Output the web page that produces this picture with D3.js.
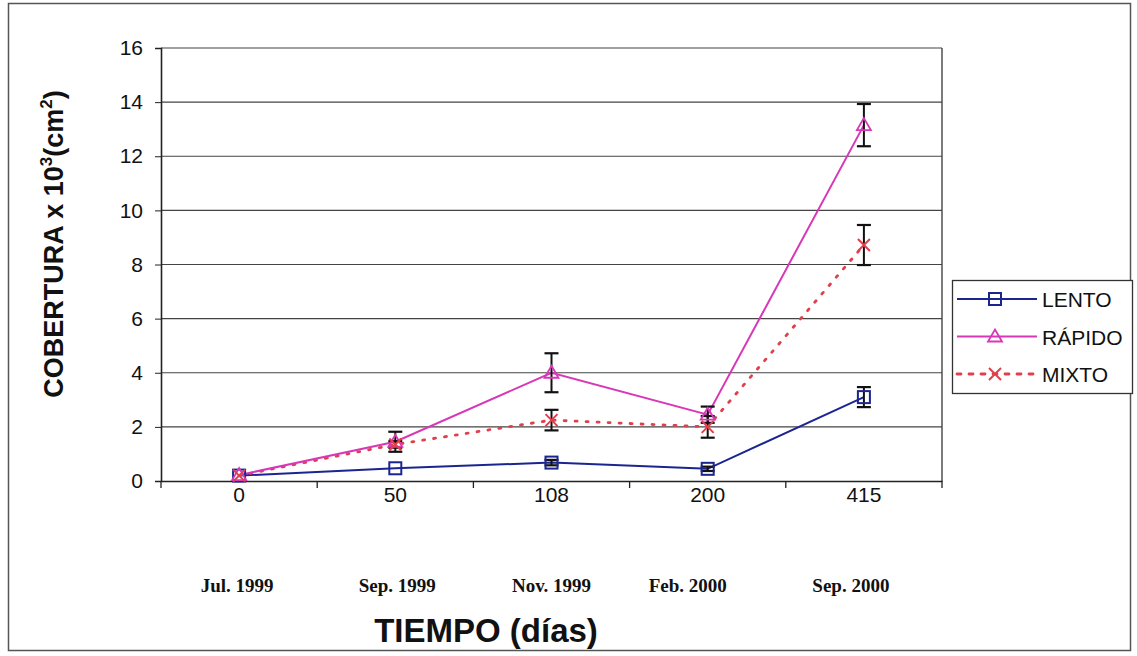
<!DOCTYPE html>
<html><head><meta charset="utf-8">
<script src="https://cdn.jsdelivr.net/npm/d3@7"></script>
<style>body{margin:0;background:#fff;}</style>
</head><body>
<svg id="c" width="1137" height="656" font-family="Arial, 'Liberation Sans', sans-serif"></svg>
<script>
const categories = ["0","50","108","200","415"];
const dateLabels = ["Jul. 1999","Sep. 1999","Nov. 1999","Feb. 2000","Sep. 2000"];
const yTicks = [0,2,4,6,8,10,12,14,16];
const lento = [0.2, 0.47, 0.68, 0.45, 3.1];
const lentoErr = [0.05, 0.05, 0.1, 0.08, 0.37];
const rapido = [0.22, 1.45, 4.0, 2.45, 13.15];
const rapidoErr = [0.05, 0.37, 0.72, 0.3, 0.78];
const mixto = [0.2, 1.35, 2.25, 2.0, 8.72];
const mixtoErr = [0.05, 0.12, 0.38, 0.4, 0.74];
const seriesNames = ["LENTO","RÁPIDO","MIXTO"];

const SANS = "Arial, 'Liberation Sans', sans-serif";
const svg = d3.select("#c");
svg.append("rect").attr("x",8.5).attr("y",3.5).attr("width",1122).attr("height",647)
  .attr("fill","#fff").attr("stroke","#555").attr("stroke-width",1.5);

const L=161,R=942,T=48,B=481;
const x = d3.scaleBand().domain(categories).range([L,R]);
const cx = c => x(c)+x.bandwidth()/2;
const y = d3.scaleLinear().domain([0,16]).range([B,T]);

// gridlines
svg.append("g").selectAll("line").data(yTicks.filter(d=>d>0)).join("line")
  .attr("x1",L).attr("x2",R).attr("y1",d=>y(d)).attr("y2",d=>y(d))
  .attr("stroke","#444").attr("stroke-width",1.2);
svg.append("line").attr("x1",R).attr("x2",R).attr("y1",T).attr("y2",B).attr("stroke","#444").attr("stroke-width",1.4);

// y axis
const ya = svg.append("g").attr("transform",`translate(${L},0)`)
  .call(d3.axisLeft(y).tickValues(yTicks).tickSize(6).tickPadding(12));
ya.select(".domain").attr("stroke","#222").attr("stroke-width",1.6);
ya.selectAll(".tick line").attr("stroke","#222");
ya.selectAll("text").attr("font-size",21).attr("fill","#111").attr("font-family",SANS);

// x axis
const xa = svg.append("g").attr("transform",`translate(0,${B})`)
  .call(d3.axisBottom(x).tickSize(0).tickPadding(6));
xa.select(".domain").attr("stroke","#222").attr("stroke-width",1.6);
xa.selectAll("text").attr("font-size",21).attr("fill","#111").attr("font-family",SANS);
svg.append("g").selectAll("line").data(d3.range(categories.length+1)).join("line")
  .attr("x1",i=>L+i*x.step()).attr("x2",i=>L+i*x.step()).attr("y1",B).attr("y2",B+7)
  .attr("stroke","#222").attr("stroke-width",1.3);

// date labels
const dateDx = [-2, 2, 0, -20, -13];
svg.append("g").selectAll("text").data(dateLabels).join("text")
  .attr("x",(d,i)=>cx(categories[i])+dateDx[i]).attr("y",592)
  .attr("text-anchor","middle").attr("font-size",19).attr("font-weight","bold")
  .attr("font-family","'Liberation Serif','Times New Roman',serif").attr("fill","#111").text(d=>d);

// axis titles
svg.append("text").attr("x",486).attr("y",642).attr("text-anchor","middle")
  .attr("font-size",33).attr("font-weight","bold").attr("fill","#111").text("TIEMPO (días)");
const yt = svg.append("text").attr("transform","translate(63,244) rotate(-90)").attr("text-anchor","middle")
  .attr("font-size",27).attr("font-weight","bold").attr("fill","#111");
yt.append("tspan").text("COBERTURA  x 10");
yt.append("tspan").attr("dy",-11).attr("font-size",17).text("3");
yt.append("tspan").attr("dy",11).text("(cm");
yt.append("tspan").attr("dy",-11).attr("font-size",17).text("2");
yt.append("tspan").attr("dy",11).text(")");

const series = [
  {name:seriesNames[0], vals:lento, err:lentoErr, color:"#1b2590", dash:null, marker:"square"},
  {name:seriesNames[1], vals:rapido, err:rapidoErr, color:"#d838b8", dash:null, marker:"triangle"},
  {name:seriesNames[2], vals:mixto, err:mixtoErr, color:"#e0404c", dash:"2,9", marker:"x"}
];

function drawMarker(g, type, px, py, color){
  if(type==="square"){
    g.append("rect").attr("x",px-6).attr("y",py-6).attr("width",12).attr("height",12)
      .attr("fill","none").attr("stroke",color).attr("stroke-width",2);
  } else if(type==="triangle"){
    g.append("path").attr("d",`M${px},${py-7}L${px+7},${py+5}L${px-7},${py+5}Z`)
      .attr("fill","none").attr("stroke",color).attr("stroke-width",1.8);
  } else {
    g.append("path").attr("d",`M${px-6},${py-6}L${px+6},${py+6}M${px-6},${py+6}L${px+6},${py-6}`)
      .attr("fill","none").attr("stroke",color).attr("stroke-width",2);
  }
}

const line = d3.line().x((d,i)=>cx(categories[i])).y(d=>y(d));
[series[0],series[2],series[1]].forEach(s=>{
  svg.append("path").datum(s.vals).attr("d",line).attr("fill","none")
    .attr("stroke",s.color).attr("stroke-width",s.dash?2.8:2)
    .attr("stroke-dasharray",s.dash).attr("stroke-linecap",s.dash?"round":"butt");
});
// error bars
series.forEach(s=>{
  const g = svg.append("g");
  s.vals.forEach((v,i)=>{
    const px = cx(categories[i]);
    const e = s.err[i];
    if(e<0.08) return;
    g.append("line").attr("x1",px).attr("x2",px).attr("y1",y(v-e)).attr("y2",y(v+e)).attr("stroke","#111").attr("stroke-width",2);
    [v-e,v+e].forEach(w=>g.append("line").attr("x1",px-7).attr("x2",px+7).attr("y1",y(w)).attr("y2",y(w)).attr("stroke","#111").attr("stroke-width",2.2));
  });
});
// markers
series.forEach(s=>{
  const g = svg.append("g");
  s.vals.forEach((v,i)=>drawMarker(g,s.marker,cx(categories[i]),y(v),s.color));
});

// legend
const lg = svg.append("g");
lg.append("rect").attr("x",952.5).attr("y",280.5).attr("width",180).attr("height",113)
  .attr("fill","#fff").attr("stroke","#333").attr("stroke-width",1.3);
series.forEach((s,i)=>{
  const ly = 299 + i*37.5;
  lg.append("line").attr("x1",957).attr("x2",1037).attr("y1",ly).attr("y2",ly)
    .attr("stroke",s.color).attr("stroke-width",s.dash?2.8:2).attr("stroke-dasharray",s.dash?"4,8":null)
    .attr("stroke-linecap",s.dash?"round":"butt");
  drawMarker(lg,s.marker,995,ly,s.color);
  lg.append("text").attr("x",1042).attr("y",ly+8).attr("font-size",21).attr("fill","#111").text(s.name);
});
</script>
</body></html>
